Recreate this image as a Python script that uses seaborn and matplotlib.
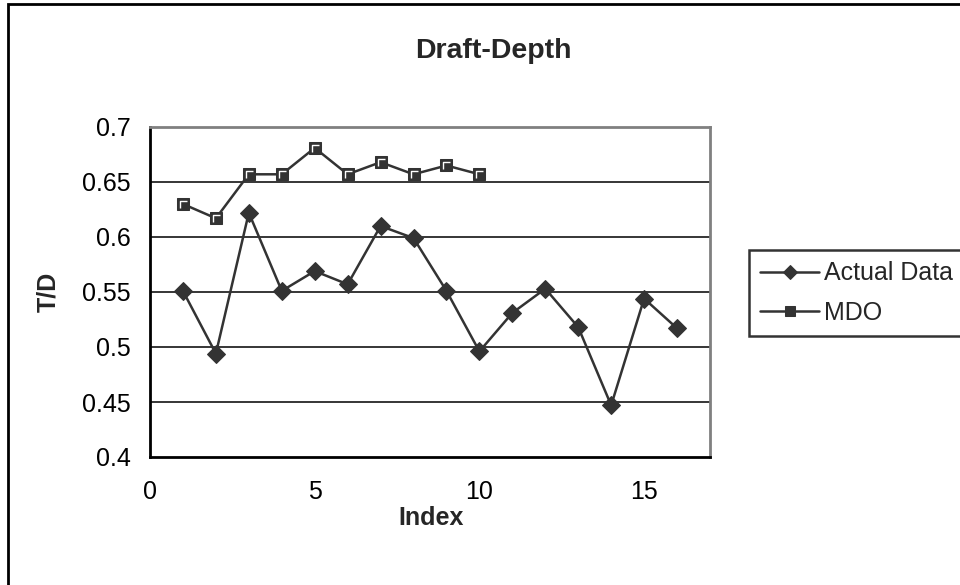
import matplotlib
matplotlib.use("Agg")
import matplotlib.pyplot as plt
import seaborn as sns
import pandas as pd
from matplotlib.patches import Rectangle
from matplotlib.path import Path

actual_index = list(range(1, 17))
actual_values = [0.551, 0.494, 0.622, 0.551, 0.569, 0.557, 0.610, 0.599,
                 0.551, 0.496, 0.531, 0.553, 0.518, 0.447, 0.544, 0.517]
mdo_index = list(range(1, 11))
mdo_values = [0.630, 0.617, 0.657, 0.657, 0.681, 0.657, 0.668, 0.657, 0.665, 0.657]
x_ticks = [0, 5, 10, 15]
y_ticks = [0.4, 0.45, 0.5, 0.55, 0.6, 0.65, 0.7]
y_tick_labels = ["0.4", "0.45", "0.5", "0.55", "0.6", "0.65", "0.7"]

sns.set_style("white")
plt.rcParams['font.family'] = ['Liberation Sans', 'DejaVu Sans']

df_actual = pd.DataFrame({"Index": actual_index, "T/D": actual_values})
df_mdo = pd.DataFrame({"Index": mdo_index, "T/D": mdo_values})

fig = plt.figure(figsize=(9.6, 5.85), dpi=100)
W, H = 960, 585
ax = fig.add_axes([150 / W, 1 - 457 / H, (710 - 150) / W, (457 - 127) / H])

dark = "#333333"
sns.lineplot(data=df_actual, x="Index", y="T/D", ax=ax, color=dark, lw=1.8,
             marker="D", markersize=9.5, markerfacecolor=dark, markeredgecolor=dark,
             label="Actual Data")
sns.lineplot(data=df_mdo, x="Index", y="T/D", ax=ax, color=dark, lw=1.8,
             marker="s", markersize=8, markerfacecolor=dark, markeredgecolor=dark,
             label="MDO")
# white inner L highlight on squares
lpath = Path([(-0.45, -0.5), (-0.45, 0.45), (0.5, 0.45)],
             [Path.MOVETO, Path.LINETO, Path.LINETO])
ax.plot(df_mdo["Index"], df_mdo["T/D"], ls="none", marker=lpath, markersize=5.5,
        markerfacecolor="none", markeredgecolor="white", markeredgewidth=1.0,
        label="_nolegend_")

ax.set_xlim(0, 17)
ax.set_ylim(0.4, 0.7)
ax.set_xticks(x_ticks)
ax.set_yticks(y_ticks)
ax.set_yticklabels(y_tick_labels)
ax.tick_params(axis="both", labelsize=18, colors="black", direction="out",
               length=5.8, width=1.4)
ax.tick_params(axis="x", pad=11)
ax.tick_params(axis="y", pad=8)
for y in y_ticks[1:-1]:
    ax.axhline(y, color="black", lw=1.1, zorder=0)

for s in ["left", "bottom"]:
    ax.spines[s].set_color("black")
    ax.spines[s].set_linewidth(2.0)
for s in ["top", "right"]:
    ax.spines[s].set_color("#808080")
    ax.spines[s].set_linewidth(2.0)

ax.set_xlabel("")
ax.set_ylabel("")
fig.text(431 / W, 1 - 518 / H, "Index", fontsize=18, fontweight="bold",
         ha="center", va="center")
fig.text(48 / W, 1 - 292 / H, "T/D", fontsize=18, fontweight="bold",
         ha="center", va="center", rotation=90)
fig.text(493 / W, 1 - 51 / H, "Draft-Depth", fontsize=20.5, fontweight="bold",
         ha="center", va="center")

leg = ax.legend(loc="upper left", bbox_to_anchor=(749 / W, 1 - 250 / H),
                bbox_transform=fig.transFigure, frameon=True, fontsize=18,
                fancybox=False, handlelength=2.35, borderpad=0.45, labelspacing=0.62,
                handletextpad=0.2, borderaxespad=0)
leg.get_frame().set_edgecolor("black")
leg.get_frame().set_linewidth(1.8)
for h in leg.legend_handles:
    h.set_markersize(7)

fig.patches.append(Rectangle((8 / W, -0.1), 1.2, 1 - 4 / H + 0.1,
                             transform=fig.transFigure, fill=False,
                             edgecolor="black", lw=2.0))

fig.savefig("out.png", dpi=100)
